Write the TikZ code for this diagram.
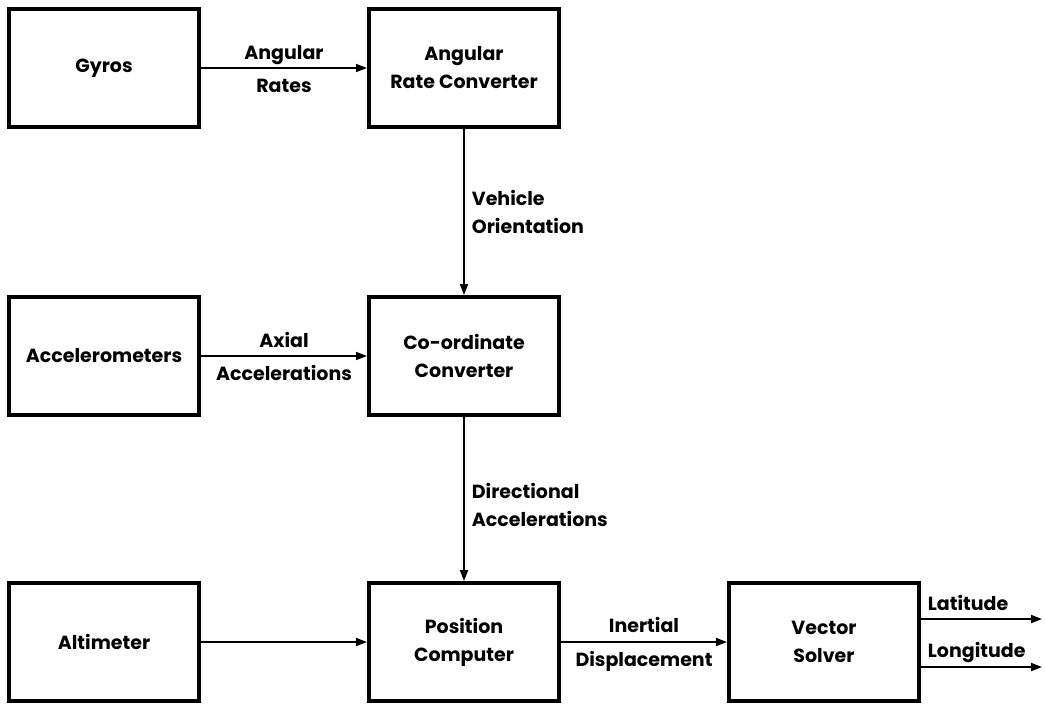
\documentclass[tikz,border=0pt]{standalone}
\usepackage{fontspec}
\setmainfont{Poppins}
\usetikzlibrary{arrows.meta,calc}
\tikzset{
  blk/.style={draw=black, line width=4pt, rectangle, minimum width=190pt, minimum height=118pt,
    align=center, font=\bfseries\fontsize{19}{28}\selectfont, inner sep=0pt},
  arr/.style={line width=1.8pt, -{Triangle[length=11pt,width=8pt]}},
  lbl/.style={font=\bfseries\fontsize{19}{28}\selectfont, inner sep=0pt, align=left},
}
\begin{document}
\begin{tikzpicture}[x=1pt,y=-1pt]
\useasboundingbox (0,0) rectangle (1045,705);
\node[blk] (gyros) at (104,68) {Gyros};
\node[blk] (arc) at (464,68) {Angular\\Rate Converter};
\node[blk] (acc) at (104,356) {Accelerometers};
\node[blk] (cc) at (464,356) {Co-ordinate\\Converter};
\node[blk] (alt) at (104,642) {Altimeter};
\node[blk] (pc) at (464,642) {Position\\Computer};
\node[blk] (vs) at (824,642) {Vector\\Solver};
\coordinate (lat) at (1042,619);
\coordinate (lon) at (1042,667);

\draw[arr] (gyros) -- node[lbl, midway, anchor=base, yshift=9pt] (l1) {Angular}
  node[lbl, midway, anchor=base, yshift=-24pt] (l2) {Rates} (arc);
\draw[arr] (arc) -- node[lbl, midway, anchor=west, xshift=7pt] (l3) {Vehicle\\Orientation} (cc);
\draw[arr] (acc) -- node[lbl, midway, anchor=base, yshift=9pt] (l4) {Axial}
  node[lbl, midway, anchor=base, yshift=-24pt] (l5) {Accelerations} (cc);
\draw[arr] (cc) -- node[lbl, midway, anchor=west, xshift=7pt, yshift=-6pt] (l6) {Directional\\Accelerations} (pc);
\draw[arr] (alt) -- (pc);
\draw[arr] (pc) -- node[lbl, midway, anchor=base, yshift=10pt] (l7) {Inertial}
  node[lbl, midway, anchor=base, yshift=-24pt] (l8) {Displacement} (vs);
\draw[arr] (vs.east |- lat) -- node[lbl, pos=0, anchor=base west, xshift=6pt, yshift=9pt] (l9) {Latitude} (lat);
\draw[arr] (vs.east |- lon) -- node[lbl, pos=0, anchor=base west, xshift=6pt, yshift=10pt] (l10) {Longitude} (lon);
\end{tikzpicture}
\end{document}
